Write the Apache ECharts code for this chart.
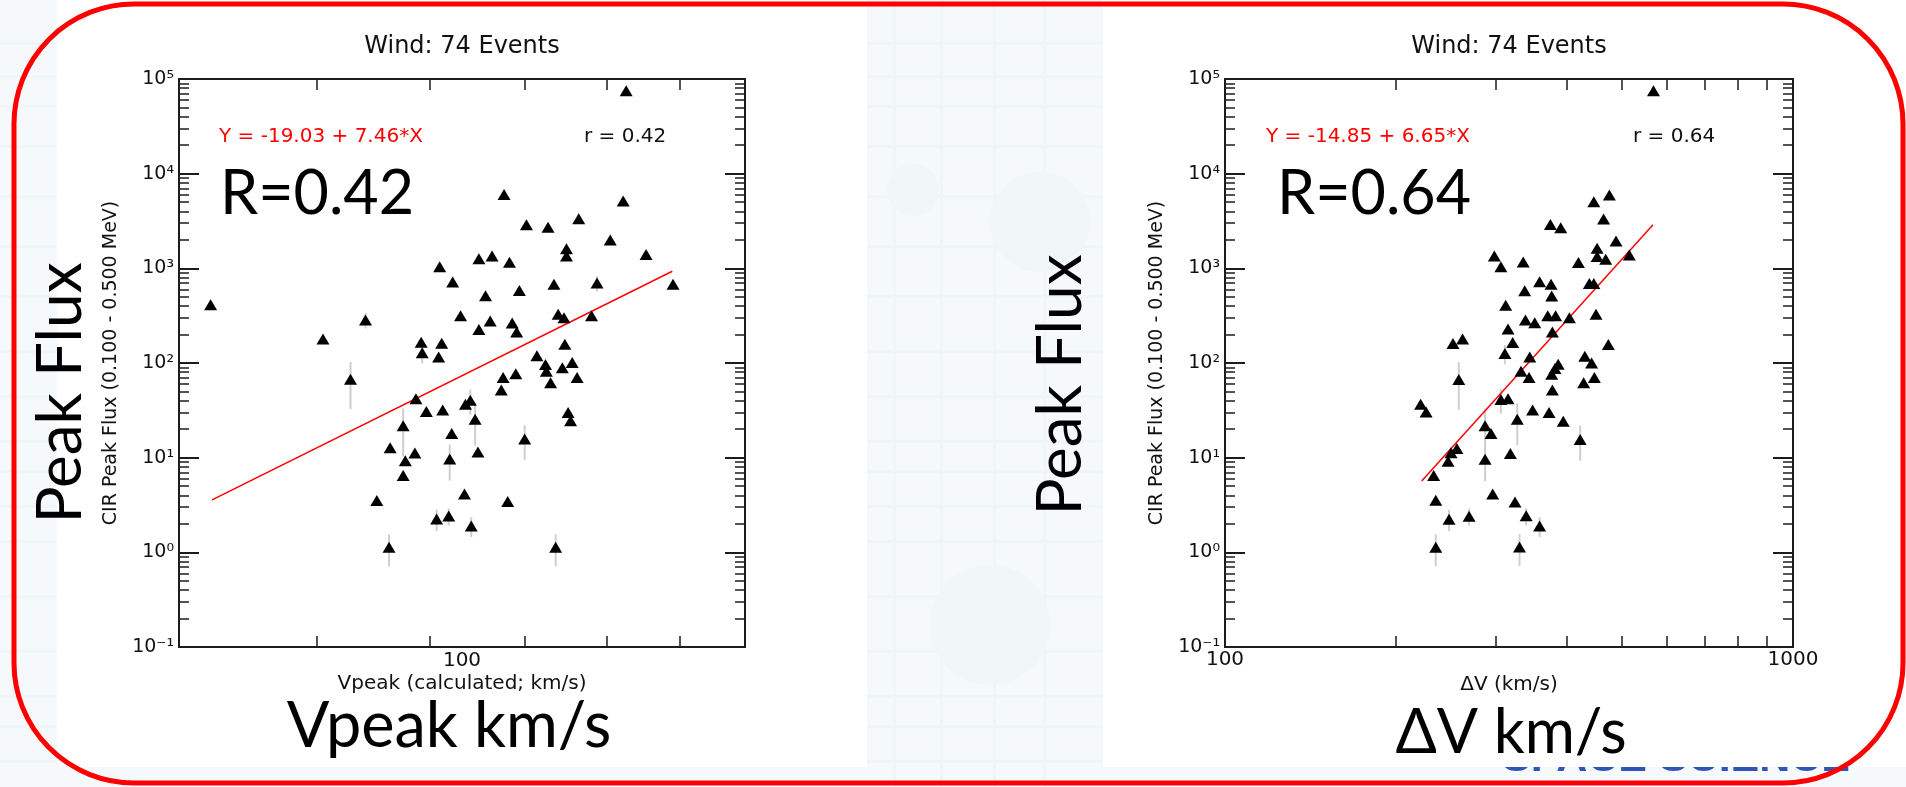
<!DOCTYPE html>
<html>
<head>
<meta charset="utf-8">
<title>Wind CIR events: peak flux</title>
<script src="https://cdn.jsdelivr.net/npm/echarts@6.0.0/dist/echarts.min.js"></script>
<style>
  html, body { margin: 0; padding: 0; background: #f6f9fb; }
  #chart { width: 1906px; height: 787px; }
</style>
</head>
<body>
<div id="chart"></div>
<script>
// ---- axis ticks and labels ----
const yTickValues = [0.1, 1, 10, 100, 1000, 10000, 100000];
const yTickLabels = ['10⁻¹', '10⁰', '10¹', '10²', '10³', '10⁴', '10⁵'];
const fluxMinorTicks = [0.1, 1, 10, 100, 1000, 10000]
  .flatMap(d => [2, 3, 4, 5, 6, 7, 8, 9].map(m => +(m * d).toPrecision(3)));
const vpeakMinorTicks = [500, 600, 700, 800, 900];
const dvMinorTicks = [200, 300, 400, 500, 600, 700, 800, 900];
const dvTickValues = [100, 1000];
const dvTickLabels = ['100', '1000'];

// ---- left panel: peak flux vs Vpeak ----
const vpeak = [825, 421, 677, 821, 702, 727, 764, 804, 749, 749, 852, 650, 664, 683, 610, 623, 734, 787, 890, 657,
  694, 631, 662, 650, 686, 691, 739, 746, 780, 541, 505, 592, 612, 593, 609, 747, 714, 724, 744, 756,
  725, 762, 730, 676, 690, 674, 528, 587, 597, 613, 636, 641, 646, 575, 622, 563, 586, 577, 620, 649,
  700, 751, 754, 575, 551, 635, 681, 607, 619, 642, 562, 736];
const vpeakFlux = [75000, 412, 6040, 5140, 2890, 2710, 3340, 1990, 1610, 1350, 1400, 1260, 1350, 1160, 1040, 716, 681, 698, 681, 513,
  585, 315, 277, 226, 264, 213, 328, 300, 315, 284, 179, 166, 162, 128, 116, 158, 119, 96.6, 89.3, 101,
  82.0, 70.4, 61.7, 70.4, 76.8, 51.7, 67.5, 41.8, 30.8, 31.8, 36.7, 40.5, 25.5, 21.7, 18.0, 12.7, 11.2, 9.25, 9.71, 11.5,
  15.7, 30.0, 24.5, 6.48, 3.53, 4.14, 3.44, 2.25, 2.42, 1.90, 1.13, 1.13];
const vpeakErr = [0, 0, 0, 0, 0, 0, 0, 0, 0, 0, 0, 0, 175, 0, 0, 0, 0, 130, 0, 0,
  0, 0, 0, 0, 0, 0, 0, 0, 0, 52, 0, 0, 0, 29, 0, 0, 0, 0, 0, 0,
  0, 0, 0, 0, 0, 0, 35, 0, 0, 0, 0, 12, 12, 11.4, 0, 0, 0, 0, 4, 0,
  6.3, 0, 0, 0.8, 0.3, 0.3, 0.35, 0.57, 0.5, 0.45, 0.42, 0.42];
const vpeakFit = { a: -19.03, b: 7.46, from: 422, to: 889 };

// ---- right panel: peak flux vs ΔV ----
const deltaV = [568, 475, 446, 464, 374, 390, 488, 452, 452, 468, 515, 298, 306, 335, 419, 337, 358, 375, 376, 438,
  446, 312, 338, 351, 370, 382, 404, 450, 315, 377, 252, 262, 321, 473, 311, 344, 430, 442, 386, 381,
  376, 332, 343, 447, 428, 258, 377, 221, 226, 306, 315, 348, 372, 394, 327, 287, 294, 422, 256, 250,
  247, 287, 318, 233, 235, 296, 324, 248, 269, 339, 358, 235, 330];
const deltaVFlux = [75000, 5940, 5050, 3310, 2910, 2680, 1950, 1630, 1330, 1250, 1380, 1350, 1040, 1170, 1150, 579, 721, 681, 509, 693,
  693, 408, 284, 266, 315, 315, 300, 328, 228, 213, 161, 179, 165, 157, 126, 116, 118, 100, 97.3, 87.5,
  76.2, 82.0, 70.4, 70.4, 61.7, 67.0, 51.7, 36.7, 30.3, 41.2, 41.8, 31.8, 30.0, 24.3, 25.5, 21.7, 18.0, 15.6, 12.5, 11.3,
  9.18, 9.64, 11.1, 6.48, 3.55, 4.14, 3.41, 2.24, 2.41, 2.43, 1.90, 1.13, 1.14];
const deltaVErr = [0, 0, 0, 0, 0, 0, 0, 0, 0, 0, 0, 0, 0, 0, 0, 0, 0, 0, 0, 0,
  0, 0, 0, 0, 0, 0, 0, 0, 0, 0, 0, 0, 0, 0, 29, 0, 0, 0, 0, 0,
  0, 0, 0, 0, 0, 35, 0, 0, 0, 12, 0, 0, 0, 0, 12, 11.4, 0, 6.3, 0, 0,
  0, 4, 0, 0.8, 0.3, 0.3, 0.35, 0.57, 0.5, 0.5, 0.45, 0.42, 0.42];
const deltaVFit = { a: -14.85, b: 6.65, from: 222, to: 567 };

// ---- styling ----
const FONT = '"DejaVu Sans", Verdana, sans-serif';
const BIG_FONT = 'Lato, "Noto Sans", sans-serif';
const AXIS_COLOR = '#1c1c1c';
const GRIDS = [
  { left: 179, top: 79, width: 566, height: 568 },
  { left: 1225, top: 79, width: 568, height: 568 }
];

function fluxAxes(gridIndex) {
  const major = () => ({ show: true, inside: true, length: 20, customValues: yTickValues,
    lineStyle: { color: AXIS_COLOR, width: 2 } });
  const minor = () => ({ show: true, inside: true, length: 10, customValues: fluxMinorTicks,
    lineStyle: { color: AXIS_COLOR, width: 1.5 } });
  const base = () => ({ type: 'log', logBase: 10, min: 0.1, max: 100000, gridIndex,
    splitLine: { show: false },
    axisLine: { show: true, onZero: false, lineStyle: { color: AXIS_COLOR, width: 2 } } });
  return [
    Object.assign(base(), {
      position: 'left', axisTick: major(),
      axisLabel: { show: true, customValues: yTickValues,
        formatter: v => yTickLabels[Math.round(Math.log10(v)) + 1],
        fontFamily: FONT, fontSize: 19, color: '#111', margin: 5 },
      name: 'CIR Peak Flux (0.100 - 0.500 MeV)', nameLocation: 'middle', nameRotate: 90, nameGap: 58,
      nameTextStyle: { fontFamily: FONT, fontSize: 19, color: '#111' }
    }),
    Object.assign(base(), { position: 'left', axisTick: minor(), axisLabel: { show: false } }),
    Object.assign(base(), { position: 'right', axisTick: major(), axisLabel: { show: false } }),
    Object.assign(base(), { position: 'right', axisTick: minor(), axisLabel: { show: false } })
  ];
}

function speedAxes(gridIndex, min, max, ticks, bottomExtra) {
  const base = () => ({ type: 'log', logBase: 10, min, max, gridIndex,
    splitLine: { show: false },
    axisLine: { show: true, onZero: false, lineStyle: { color: AXIS_COLOR, width: 2 } },
    axisTick: { show: true, inside: true, length: 11, customValues: ticks,
      lineStyle: { color: AXIS_COLOR, width: 1.5 } } });
  return [
    Object.assign(base(), { position: 'bottom' }, bottomExtra),
    Object.assign(base(), { position: 'top', axisLabel: { show: false } })
  ];
}

function points(xs, ys) { return xs.map((x, i) => [x, ys[i]]); }
function errorRows(xs, ys, es) {
  return xs.map((x, i) => [x, ys[i], es[i]]).filter(r => r[2] > 0);
}
function fitLine(fit) {
  return [fit.from, fit.to].map(v => [v, Math.pow(10, fit.a + fit.b * Math.log10(v))]);
}

function errorBars(rows, xi, yi) {
  return {
    type: 'custom', xAxisIndex: xi, yAxisIndex: yi, data: rows, z: 1, silent: true, clip: true,
    renderItem(params, api) {
      const x = api.value(0), f = api.value(1), e = api.value(2);
      const top = api.coord([x, f + e]);
      const bot = api.coord([x, Math.max(f - e, 0.1)]);
      return { type: 'line', shape: { x1: top[0], y1: top[1], x2: bot[0], y2: bot[1] },
        style: { stroke: '#cfcfcf', lineWidth: 2 } };
    }
  };
}
function scatter(data, xi, yi) {
  return { type: 'scatter', xAxisIndex: xi, yAxisIndex: yi, data, symbol: 'triangle',
    symbolSize: [13, 11], itemStyle: { color: '#000', opacity: 1 }, z: 3, silent: true };
}
function regression(fit, xi, yi) {
  return { type: 'line', xAxisIndex: xi, yAxisIndex: yi, data: fitLine(fit), showSymbol: false,
    lineStyle: { color: '#ff0000', width: 1.5 }, z: 2, silent: true };
}

function txt(text, x, y, font, fill, align, extra) {
  return Object.assign({ type: 'text', x, y, silent: true,
    style: { text, font, fill, textAlign: align, align, textVerticalAlign: 'middle', verticalAlign: 'middle' } },
    extra || {});
}

// faint slide backdrop behind the two panels
const backdrop = [
  { type: 'rect', shape: { x: 0, y: 0, width: 1906, height: 787 }, style: { fill: '#f6f9fb' }, z: -30 }
];
[42, 75, 105, 145, 195, 245, 295, 350, 395, 440, 470, 505, 540, 595, 650, 695, 725, 760].forEach(y => {
  backdrop.push({ type: 'rect', shape: { x: 0, y, width: 1906, height: 3 }, style: { fill: '#f0f5f8' }, z: -29 });
});
[893, 940, 993, 1043].forEach(x => {
  backdrop.push({ type: 'rect', shape: { x, y: 0, width: 3, height: 787 }, style: { fill: '#f0f5f8' }, z: -29 });
});
backdrop.push(
  { type: 'circle', shape: { cx: 913, cy: 190, r: 26 }, style: { fill: '#f1f6f9' }, z: -28 },
  { type: 'circle', shape: { cx: 1040, cy: 222, r: 50 }, style: { fill: '#f1f6f9' }, z: -28 },
  { type: 'circle', shape: { cx: 990, cy: 625, r: 60 }, style: { fill: '#f1f6f9' }, z: -28 },
  { type: 'text', x: 1502, y: 781, silent: true, z: -27,
    style: { text: 'SPACE SCIENCE', font: 'bold 43px "Liberation Sans", Arial, sans-serif', fill: '#2f55b5',
      textAlign: 'left', align: 'left', textVerticalAlign: 'bottom', verticalAlign: 'bottom' } },
  { type: 'rect', shape: { x: 57, y: 0, width: 810, height: 767 }, style: { fill: '#ffffff' }, z: -20 },
  { type: 'rect', shape: { x: 1103, y: 0, width: 803, height: 767 }, style: { fill: '#ffffff' }, z: -20 }
);

const annotations = [
  txt('Wind: 74 Events', 462, 47, '24px ' + FONT, '#111', 'center'),
  txt('Wind: 74 Events', 1509, 47, '24px ' + FONT, '#111', 'center'),
  txt('Y = -19.03 + 7.46*X', 219, 137, '20px ' + FONT, '#ff0000', 'left'),
  txt('r = 0.42', 584, 137, '20px ' + FONT, '#111', 'left'),
  txt('Y = -14.85 + 6.65*X', 1266, 137, '20px ' + FONT, '#ff0000', 'left'),
  txt('r = 0.64', 1633, 137, '20px ' + FONT, '#111', 'left'),
  txt('R=0.42', 220, 194, '61px ' + BIG_FONT, '#000', 'left'),
  txt('R=0.64', 1277, 194, '61px ' + BIG_FONT, '#000', 'left'),
  txt('Vpeak km/s', 449, 727, '63px ' + BIG_FONT, '#000', 'center'),
  txt('ΔV km/s', 1511, 733, '61px ' + BIG_FONT, '#000', 'center'),
  txt('Peak Flux', 61, 393, '62px ' + BIG_FONT, '#000', 'center', { rotation: Math.PI / 2 }),
  txt('Peak Flux', 1061, 385, '62px ' + BIG_FONT, '#000', 'center', { rotation: Math.PI / 2 }),
  { type: 'rect', z: 100, silent: true, shape: { x: 14, y: 4, width: 1889, height: 779, r: 120 },
    style: { fill: 'none', stroke: '#ff0000', lineWidth: 5 } }
];

const chart = echarts.init(document.getElementById('chart'), null, { renderer: 'canvas' });
chart.setOption({
  animation: false,
  backgroundColor: '#f6f9fb',
  grid: GRIDS.map(g => Object.assign({ show: false, containLabel: false, outerBoundsMode: 'none' }, g)),
  xAxis: [
    ...speedAxes(0, 400, 1000, vpeakMinorTicks, {
      axisLabel: { show: false },
      name: '{t|100}\n{n|Vpeak (calculated; km/s)}', nameLocation: 'middle', nameGap: 2,
      nameTextStyle: { align: 'center', rich: {
        t: { fontFamily: FONT, fontSize: 20, lineHeight: 24, color: '#111', align: 'center' },
        n: { fontFamily: FONT, fontSize: 20, lineHeight: 22, color: '#111', align: 'center' } } }
    }),
    ...speedAxes(1, 100, 1000, dvMinorTicks, {
      axisLabel: { show: true, customValues: dvTickValues,
        formatter: v => dvTickLabels[dvTickValues.indexOf(Math.round(v))],
        fontFamily: FONT, fontSize: 20, color: '#111', margin: 3 },
      name: 'ΔV (km/s)', nameLocation: 'middle', nameGap: 24,
      nameTextStyle: { fontFamily: FONT, fontSize: 20, color: '#111' }
    })
  ],
  yAxis: [...fluxAxes(0), ...fluxAxes(1)],
  graphic: { elements: backdrop.concat(annotations) },
  series: [
    errorBars(errorRows(vpeak, vpeakFlux, vpeakErr), 0, 0),
    regression(vpeakFit, 0, 0),
    scatter(points(vpeak, vpeakFlux), 0, 0),
    errorBars(errorRows(deltaV, deltaVFlux, deltaVErr), 2, 4),
    regression(deltaVFit, 2, 4),
    scatter(points(deltaV, deltaVFlux), 2, 4)
  ]
});
</script>
</body>
</html>
